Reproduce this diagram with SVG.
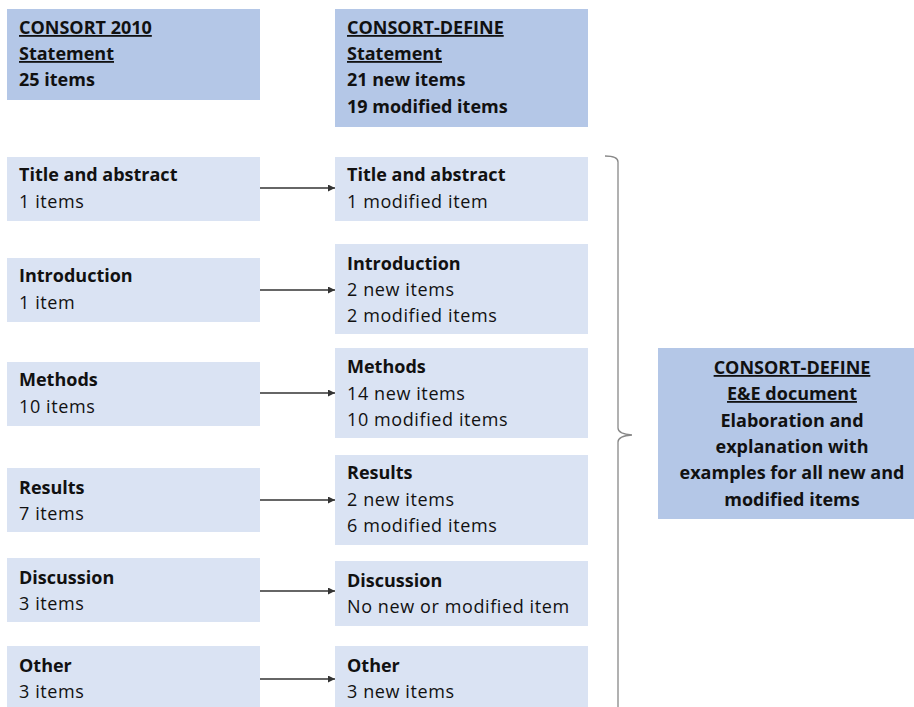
<svg xmlns="http://www.w3.org/2000/svg" width="914" height="707" viewBox="0 0 914 707">
  <defs>
    <marker id="arrow" viewBox="0 0 10 10" refX="10" refY="5" markerWidth="7" markerHeight="7" markerUnits="userSpaceOnUse" orient="auto">
      <path d="M0,0 L10,5 L0,10 z" fill="#333"/>
    </marker>
  </defs>
  <style>
    text { font-family: "Open Sans", "Noto Sans", sans-serif; font-size: 18px; fill: #111; letter-spacing: 0.6px; }
    .b { font-weight: bold; letter-spacing: 0; }
    .u { text-decoration: underline; }
    .head { fill: #B4C7E7; }
    .sec { fill: #DAE3F3; }
    .conn { stroke: #333; stroke-width: 1.3; fill: none; }
    .brace { stroke: #888; stroke-width: 1.3; fill: none; }
    .c { text-anchor: middle; }
  </style>
  <rect width="914" height="707" fill="#fff"/>

  <!-- header boxes -->
  <g id="consort2010">
    <rect class="head" x="7" y="9" width="253" height="91"/>
    <text class="b u" x="19" y="34">CONSORT 2010</text>
    <text class="b u" x="19" y="60">Statement</text>
    <text class="b" x="19" y="86">25 items</text>
  </g>
  <g id="consortDefine">
    <rect class="head" x="335" y="9" width="253" height="118"/>
    <text class="b u" x="347" y="34">CONSORT-DEFINE</text>
    <text class="b u" x="347" y="60">Statement</text>
    <text class="b" x="347" y="86">21 new items</text>
    <text class="b" x="347" y="113">19 modified items</text>
  </g>

  <!-- CONSORT 2010 sections -->
  <g id="l-title">
    <rect class="sec" x="7" y="157" width="253" height="64"/>
    <text class="b" x="19" y="181">Title and abstract</text>
    <text x="19" y="208">1 items</text>
  </g>
  <g id="l-intro">
    <rect class="sec" x="7" y="258" width="253" height="64"/>
    <text class="b" x="19" y="282">Introduction</text>
    <text x="19" y="309">1 item</text>
  </g>
  <g id="l-methods">
    <rect class="sec" x="7" y="362" width="253" height="64"/>
    <text class="b" x="19" y="386">Methods</text>
    <text x="19" y="413">10 items</text>
  </g>
  <g id="l-results">
    <rect class="sec" x="7" y="468" width="253" height="64"/>
    <text class="b" x="19" y="494">Results</text>
    <text x="19" y="520">7 items</text>
  </g>
  <g id="l-discussion">
    <rect class="sec" x="7" y="558" width="253" height="64"/>
    <text class="b" x="19" y="584">Discussion</text>
    <text x="19" y="610">3 items</text>
  </g>
  <g id="l-other">
    <rect class="sec" x="7" y="646" width="253" height="61"/>
    <text class="b" x="19" y="672">Other</text>
    <text x="19" y="698">3 items</text>
  </g>

  <!-- CONSORT-DEFINE sections -->
  <g id="r-title">
    <rect class="sec" x="335" y="157" width="253" height="64"/>
    <text class="b" x="347" y="181">Title and abstract</text>
    <text x="347" y="208">1 modified item</text>
  </g>
  <g id="r-intro">
    <rect class="sec" x="335" y="244" width="253" height="90"/>
    <text class="b" x="347" y="270">Introduction</text>
    <text x="347" y="296">2 new items</text>
    <text x="347" y="322">2 modified items</text>
  </g>
  <g id="r-methods">
    <rect class="sec" x="335" y="348" width="253" height="90"/>
    <text class="b" x="347" y="373">Methods</text>
    <text x="347" y="400">14 new items</text>
    <text x="347" y="426">10 modified items</text>
  </g>
  <g id="r-results">
    <rect class="sec" x="335" y="455" width="253" height="90"/>
    <text class="b" x="347" y="479">Results</text>
    <text x="347" y="506">2 new items</text>
    <text x="347" y="532">6 modified items</text>
  </g>
  <g id="r-discussion">
    <rect class="sec" x="335" y="561" width="253" height="65"/>
    <text class="b" x="347" y="587">Discussion</text>
    <text x="347" y="613">No new or modified item</text>
  </g>
  <g id="r-other">
    <rect class="sec" x="335" y="646" width="253" height="61"/>
    <text class="b" x="347" y="672">Other</text>
    <text x="347" y="698">3 new items</text>
  </g>

  <!-- E&E document -->
  <g id="ee-document">
    <rect class="head" x="658" y="348" width="256" height="171"/>
    <text class="b u c" x="792" y="374">CONSORT-DEFINE</text>
    <text class="b u c" x="792" y="400">E&amp;E document</text>
    <text class="b c" x="792" y="427">Elaboration and</text>
    <text class="b c" x="792" y="453">explanation with</text>
    <text class="b c" x="792" y="479">examples for all new and</text>
    <text class="b c" x="792" y="506">modified items</text>
  </g>

  <!-- connectors -->
  <g id="connectors">
    <line class="conn" x1="260" y1="188" x2="335" y2="188" marker-end="url(#arrow)"/>
    <line class="conn" x1="260" y1="290" x2="335" y2="290" marker-end="url(#arrow)"/>
    <line class="conn" x1="260" y1="393" x2="335" y2="393" marker-end="url(#arrow)"/>
    <line class="conn" x1="260" y1="500" x2="335" y2="500" marker-end="url(#arrow)"/>
    <line class="conn" x1="260" y1="591" x2="335" y2="591" marker-end="url(#arrow)"/>
    <line class="conn" x1="260" y1="679" x2="335" y2="679" marker-end="url(#arrow)"/>
    <path class="brace" d="M605,156 Q618,156 618,162 L618,428 Q618,434 632,435 Q618,436 618,442 L618,707"/>
  </g>
</svg>
